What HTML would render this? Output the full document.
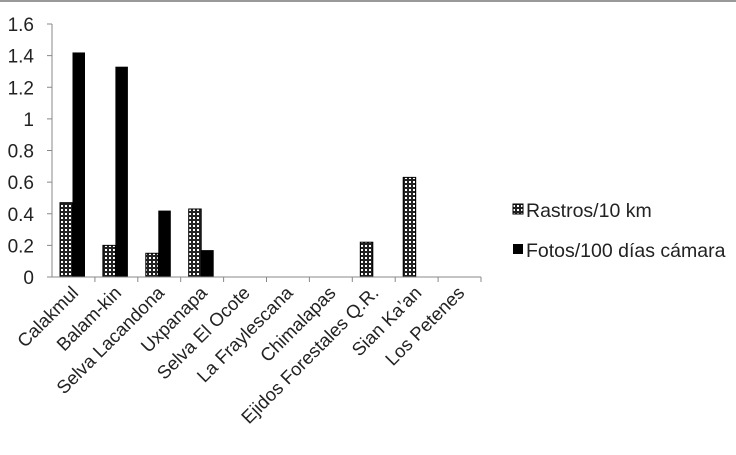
<!DOCTYPE html>
<html><head><meta charset="utf-8"><style>
body{margin:0;background:#fff}
svg{display:block;font-family:"Liberation Sans",sans-serif}
</style></head><body>
<svg width="736" height="455" viewBox="0 0 736 455">
<defs>
<pattern id="pat" width="4" height="4" patternUnits="userSpaceOnUse">
<rect width="4" height="4" fill="#222"/>
<rect x="1" y="1" width="2" height="2" fill="#fff"/>
</pattern>
</defs>
<line x1="0" y1="1" x2="736" y2="1" stroke="#999" stroke-width="2"/>
<g id="yaxis"></g>
<g id="bars"></g>
<g id="xaxis"></g>
<g>
<g>
<rect x="513" y="204" width="10" height="10" fill="url(#pat)" stroke="#000" stroke-width="1"/>
<text x="526" y="217" font-size="19.5" fill="#222">Rastros/10 km</text>
</g>
<g>
<rect x="513" y="244" width="10" height="10" fill="#000"/>
<text x="526" y="257" font-size="19.5" fill="#222">Fotos/100 días cámara</text>
</g>
</g>
<script>
const categories=["Calakmul","Balam-kin","Selva Lacandona","Uxpanapa","Selva El Ocote","La Fraylescana","Chimalapas","Ejidos Forestales Q.R.","Sian Ka’an","Los Petenes"];
const rastros=[0.47,0.20,0.15,0.43,0,0,0,0.22,0.63,0];
const fotos=[1.42,1.33,0.42,0.17,0,0,0,0,0,0];
const yTicks=[0,0.2,0.4,0.6,0.8,1,1.2,1.4,1.6];
const yTickLabels=["0","0.2","0.4","0.6","0.8","1","1.2","1.4","1.6"];
const NS="http://www.w3.org/2000/svg";
const x0=52,x1=481,y0=277,yTop=24,yMax=1.6;
const bw=(x1-x0)/categories.length;
const y=v=>y0-(v/yMax)*(y0-yTop);
function mk(t,a,p){const e=document.createElementNS(NS,t);for(const k in a)e.setAttribute(k,a[k]);p.appendChild(e);return e;}
const ya=document.getElementById('yaxis'),xa=document.getElementById('xaxis'),bg=document.getElementById('bars');
const yl=mk('line',{x1:x0,y1:yTop,x2:x0,y2:y0,stroke:'#888'},ya);


yTicks.forEach((v,i)=>{
 const tk=mk('line',{x1:x0-5,x2:x0,y1:y(v),y2:y(v),stroke:'#888'},ya);
 
 
 const t=mk('text',{x:x0-18,y:y(v)+7,'text-anchor':'end','font-size':19,fill:'#222'},ya);
 t.textContent=yTickLabels[i];
 
 
});
const xl=mk('line',{x1:x0,y1:y0,x2:x1,y2:y0,stroke:'#888'},xa);


categories.forEach((c,i)=>{
 const tx=x0+bw*(i+1);
 const tk=mk('line',{x1:tx,x2:tx,y1:y0,y2:y0+5,stroke:'#888'},xa);
 
 
 const cx=x0+bw*i+bw/2+6;
 const t=mk('text',{x:0,y:0,'text-anchor':'end','font-size':18.5,fill:'#222',transform:`translate(${cx},${y0+17}) rotate(-45)`},xa);
 t.textContent=c;
 
 
 const bx=x0+bw*i+8,w=12.5;
 if(rastros[i]>0){const r=mk('rect',{x:bx,y:y(rastros[i]),width:w,height:y0-y(rastros[i]),fill:'url(#pat)',stroke:'#000','stroke-width':1},bg);
  
  }
 if(fotos[i]>0){const r=mk('rect',{x:bx+w,y:y(fotos[i]),width:w,height:y0-y(fotos[i]),fill:'#000'},bg);
  
  }
});
</script>
</svg>
</body></html>
